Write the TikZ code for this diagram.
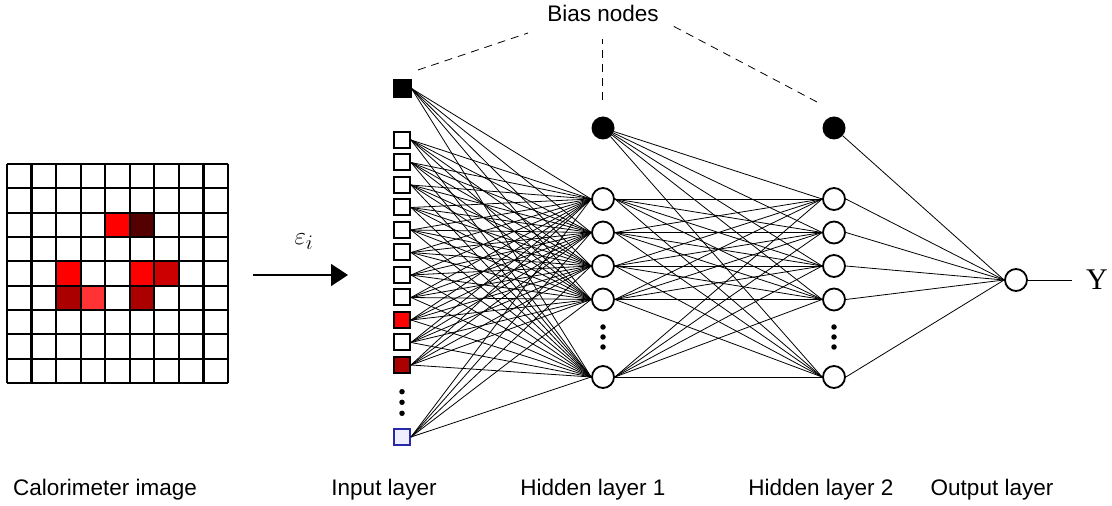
\documentclass[tikz,border=0pt]{standalone}
\usepackage{fontspec}
\setmainfont{Liberation Sans}
\newfontfamily\serifY{Liberation Serif}
\usetikzlibrary{arrows.meta}
\definecolor{rA}{RGB}{255,0,0}
\definecolor{rB}{RGB}{85,0,0}
\definecolor{rC}{RGB}{204,0,0}
\definecolor{rD}{RGB}{170,0,0}
\definecolor{rE}{RGB}{255,51,51}
\definecolor{bluebrd}{RGB}{40,40,170}
\definecolor{bluefill}{RGB}{238,238,255}
\begin{document}
\begin{tikzpicture}[x=1bp,y=-1bp,
  inp/.style={rectangle,draw,line width=2bp,minimum size=16bp,inner sep=0pt},
  hid/.style={circle,draw,line width=1.8bp,minimum size=22bp,inner sep=0pt,fill=white},
  biasn/.style={circle,fill=black,minimum size=23bp,inner sep=0pt},
  conn/.style={line width=0.8bp},
  dotn/.style={circle,fill=black,minimum size=5.5bp,inner sep=0pt},
  biasline/.style={line width=0.8bp,dash pattern=on 8bp off 6bp},
  lbl/.style={font=\fontsize{22.5bp}{26bp}\selectfont,anchor=base,inner sep=0pt}]
\useasboundingbox (0,0) rectangle (1112,506);
% calorimeter image
\foreach \c/\r/\col in {4/2/rA,5/2/rB,2/4/rA,5/4/rA,6/4/rC,2/5/rD,3/5/rE,5/5/rD}
  \fill[\col] ({7+\c*24.555},{164+\r*24.333}) rectangle ++(24.555,24.333);
\foreach \i in {0,...,9} {
  \draw[line width=2.2bp] ({7+\i*24.555},164) -- ({7+\i*24.555},383);
  \draw[line width=2.2bp] (7,{164+\i*24.333}) -- (228,{164+\i*24.333});
}
% arrow
\coordinate (arrS) at (253,275);
\coordinate (arrE) at (348,275);
\draw[line width=1.6bp,-{Triangle[length=17bp,width=22bp]}] (arrS) -- (arrE);
\node (eps) at (304,242) {\fontsize{30bp}{34bp}\selectfont$\varepsilon_i$};
% input layer
\node[inp,fill=black,minimum size=17bp] (bi) at (402,88.5) {};
\foreach \k/\f in {0/white,1/white,2/white,3/white,4/white,5/white,6/white,7/white,8/rA,9/white,10/rD}
  \node[inp,fill=\f] (i\k) at (402,{140+22.5*\k}) {};
\node[inp,draw=bluebrd,fill=bluefill] (i11) at (402,437) {};
\node[dotn] (di1) at (402,391.7) {};
\node[dotn] (di2) at (402,402.3) {};
\node[dotn] (di3) at (402,413.3) {};
% hidden layers
\node[biasn] (bh) at (603,128) {};
\node[biasn] (bg) at (834,128) {};
\foreach \k/\y in {1/199,2/232.5,3/266,4/299.5,5/377} {
  \node[hid] (h\k) at (603,\y) {};
  \node[hid] (g\k) at (834,\y) {};
}
\foreach \x/\n in {603/h,834/g} {
  \node[dotn] (\n d1) at (\x,327) {};
  \node[dotn] (\n d2) at (\x,337) {};
  \node[dotn] (\n d3) at (\x,347) {};
}
\node[hid] (out) at (1016,280) {};
% connections
\foreach \a in {bi,i0,i1,i2,i3,i4,i5,i6,i7,i8,i9,i10,i11}
  \foreach \b in {1,...,5}
    \draw[conn] (\a.east) -- (h\b.west);
\foreach \b in {1,...,5} {
  \draw[conn] (bh) -- (g\b.west);
  \foreach \a in {1,...,5}
    \draw[conn] (h\a.east) -- (g\b.west);
  \draw[conn] (g\b.east) -- (out.west);
}
\draw[conn] (bg) -- (out.west);
\coordinate (yend) at (1072,280);
\draw[conn] (out.east) -- (yend);
\node[inner sep=0pt] (Y) at (1097,280) {\serifY\fontsize{30bp}{34bp}\selectfont Y};
% bias labels
\node[lbl] (biaslbl) at (603,22) {Bias nodes};
\coordinate (b1a) at (418,70);  \coordinate (b1b) at (528,33);
\coordinate (b2a) at (602,100); \coordinate (b2b) at (602,39);
\coordinate (b3a) at (817,102); \coordinate (b3b) at (673,26);
\draw[biasline] (b1a) -- (b1b);
\draw[biasline] (b2a) -- (b2b);
\draw[biasline] (b3a) -- (b3b);
% bottom labels
\node[lbl] (lc) at (105,495) {Calorimeter image};
\node[lbl] (li) at (384,495) {Input layer};
\node[lbl] (lh1) at (593,495) {Hidden layer 1};
\node[lbl] (lh2) at (821,495) {Hidden layer 2};
\node[lbl] (lo) at (992,495) {Output layer};
\end{tikzpicture}
\end{document}
